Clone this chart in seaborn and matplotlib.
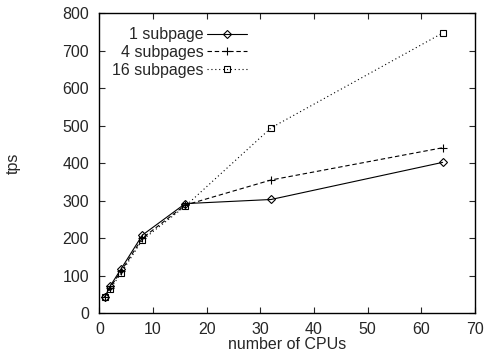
import matplotlib
matplotlib.use("Agg")
import matplotlib.pyplot as plt
import seaborn as sns
import pandas as pd

# data
cpus = [1, 2, 4, 8, 16, 32, 64]
tps_1 = [43, 72, 117, 208, 292, 303, 402]
tps_4 = [43, 68, 111, 200, 288, 355, 441]
tps_16 = [43, 64, 106, 195, 285, 494, 747]
labels = ["1 subpage", "4 subpages", "16 subpages"]

df = pd.DataFrame({
    "cpus": cpus * 3,
    "tps": tps_1 + tps_4 + tps_16,
    "series": [labels[0]] * 7 + [labels[1]] * 7 + [labels[2]] * 7,
})

sns.set_style("ticks")
plt.rcParams["font.family"] = ["Liberation Sans", "DejaVu Sans"]
plt.rcParams["xtick.direction"] = "in"
plt.rcParams["ytick.direction"] = "in"

fig = plt.figure(figsize=(4.85, 3.55), dpi=100)
ax = fig.add_axes([0.205, 0.118, 0.774, 0.845])

styles = [("-", "D", 4.2), ((0, (4, 2.5)), "+", 6), ((0, (1, 2.5)), "s", 5)]
for lab, (ls, mk, ms) in zip(labels, styles):
    sub = df[df["series"] == lab]
    sns.lineplot(data=sub, x="cpus", y="tps", ax=ax, color="black", linestyle=ls,
                 marker=mk, markerfacecolor="none", markeredgecolor="black",
                 markersize=ms, markeredgewidth=0.8, linewidth=0.8, label=lab)

ax.set_xlim(0, 70)
ax.set_ylim(0, 800)
ax.set_xticks(range(0, 71, 10))
ax.set_yticks(range(0, 801, 100))
ax.tick_params(axis="both", labelsize=11.5, length=4, width=0.8, top=True, right=True)
ax.tick_params(axis="x", pad=6.5)
ax.tick_params(axis="y", pad=7.5)
for s in ax.spines.values():
    s.set_visible(True)
    s.set_linewidth(1.0)
    s.set_color("black")
ax.set_xlabel("number of CPUs", fontsize=11.5)
ax.xaxis.set_label_coords(0.5, -0.08)
ax.set_ylabel("tps", fontsize=11.5)
ax.yaxis.set_label_coords(-0.21, 0.5)

ax.legend(loc="upper right", frameon=False, markerfirst=False, fontsize=11.5,
          handlelength=2.5, labelspacing=0.17, borderaxespad=0, borderpad=0,
          handletextpad=0.2, bbox_to_anchor=(0.393, 0.953))

fig.savefig("out.png", dpi=100)
